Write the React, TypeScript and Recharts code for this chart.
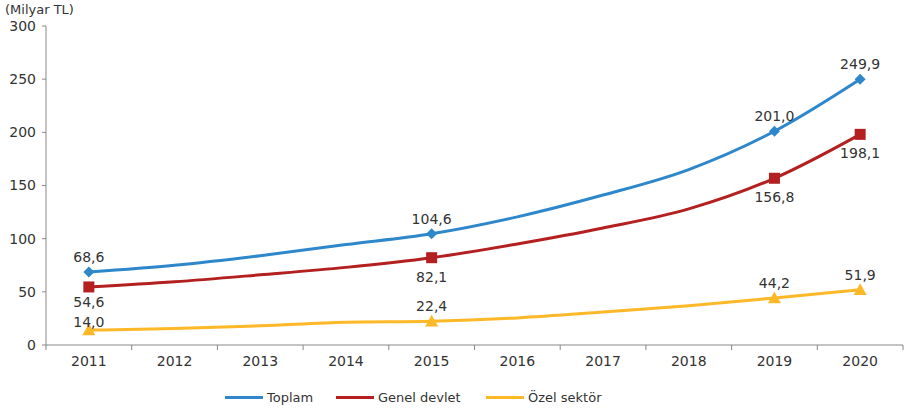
import React from 'react';
import { LineChart, Line, XAxis, YAxis, LabelList } from 'recharts';

const years = ['2011', '2012', '2013', '2014', '2015', '2016', '2017', '2018', '2019', '2020'];
const toplam = [68.6, 75.0, 84.0, 94.5, 104.6, 120.5, 141.0, 165.0, 201.0, 249.9];
const genel = [54.6, 59.5, 66.0, 73.0, 82.1, 95.0, 110.0, 128.0, 156.8, 198.1];
const ozel = [14.0, 15.5, 18.0, 21.5, 22.4, 25.5, 31.0, 37.0, 44.2, 51.9];
const markedIdx = [0, 4, 8, 9];
const yTicks = [0, 50, 100, 150, 200, 250, 300];

const data = years.map((y, i) => ({ year: y, toplam: toplam[i], genel: genel[i], ozel: ozel[i] }));

const BLUE = '#2f87cb';
const RED = '#b41f1f';
const YEL = '#fdb827';
const TXT = '#333333';
const FONT = '"DejaVu Sans", "Liberation Sans", Arial, sans-serif';

const W = 904;
const H = 412;
const PLOT_LEFT = 46;
const PLOT_RIGHT = 903;
const HALF = (PLOT_RIGHT - PLOT_LEFT) / years.length / 2;

const fmt = (v: number) => v.toFixed(1).replace('.', ',');

const DiamondDot = (p: any) => {
  if (!markedIdx.includes(p.index)) return <g key={p.index} />;
  const s = 5.5;
  return <path key={p.index} d={`M${p.cx},${p.cy - s}L${p.cx + s},${p.cy}L${p.cx},${p.cy + s}L${p.cx - s},${p.cy}Z`} fill={BLUE} />;
};
const SquareDot = (p: any) => {
  if (!markedIdx.includes(p.index)) return <g key={p.index} />;
  const s = 5.5;
  return <rect key={p.index} x={p.cx - s} y={p.cy - s} width={2 * s} height={2 * s} fill={RED} />;
};
const TriDot = (p: any) => {
  if (!markedIdx.includes(p.index)) return <g key={p.index} />;
  const s = 6.5;
  return <path key={p.index} d={`M${p.cx},${p.cy - s}L${p.cx + s},${p.cy + s * 0.8}L${p.cx - s},${p.cy + s * 0.8}Z`} fill={YEL} />;
};

const makeLabel = (dy: number, dyFirst?: number) => (p: any) => {
  if (!markedIdx.includes(p.index)) return null;
  const d = p.index === 0 && dyFirst !== undefined ? dyFirst : dy;
  return (
    <text x={p.x} y={p.y + d} textAnchor="middle" dominantBaseline="central" fill={TXT} fontSize={14} fontFamily={FONT}>
      {fmt(p.value)}
    </text>
  );
};

const XTick = (p: any) => {
  const { x, y, payload, index } = p;
  return (
    <g>
      <line x1={x + HALF} y1={y - 8} x2={x + HALF} y2={y - 3} stroke="#888" strokeWidth={1} />
      {index === 0 && <line x1={x - HALF} y1={y - 8} x2={x - HALF} y2={y - 3} stroke="#888" strokeWidth={1} />}
      <text x={x} y={y + 8} textAnchor="middle" dominantBaseline="central" fill={TXT} fontSize={14} fontFamily={FONT}>
        {payload.value}
      </text>
    </g>
  );
};

const legendItems = [
  { name: 'Toplam', color: BLUE, left: 225 },
  { name: 'Genel devlet', color: RED, left: 336 },
  { name: 'Özel sektör', color: YEL, left: 486 },
];

export default function App() {
  return (
    <div style={{ position: 'absolute', left: 0, top: 0, width: W, height: H, background: '#fff' }}>
      <div style={{ position: 'absolute', left: 5, top: 2, fontFamily: FONT, fontSize: 13, color: TXT }}>(Milyar TL)</div>
      <LineChart width={W} height={H} data={data} margin={{ top: 26, right: W - PLOT_RIGHT, bottom: 412 - 345 - 30, left: 0 }}>
        <XAxis
          dataKey="year"
          axisLine={{ stroke: '#888' }}
          tickLine={false}
          tick={<XTick />}
          height={30}
          interval={0}
          padding={{ left: HALF, right: HALF }}
        />
        <YAxis
          width={PLOT_LEFT}
          domain={[0, 300]}
          ticks={yTicks}
          axisLine={{ stroke: '#888' }}
          tickLine={{ stroke: '#888' }}
          tickSize={4}
          tickMargin={6}
          tick={{ fill: TXT, fontSize: 14, fontFamily: FONT }}
        />
        <Line type="monotone" dataKey="toplam" stroke={BLUE} strokeWidth={3} dot={DiamondDot} activeDot={false} isAnimationActive={false}>
          <LabelList dataKey="toplam" content={makeLabel(-15)} />
        </Line>
        <Line type="monotone" dataKey="genel" stroke={RED} strokeWidth={3} dot={SquareDot} activeDot={false} isAnimationActive={false}>
          <LabelList dataKey="genel" content={makeLabel(19, 15)} />
        </Line>
        <Line type="monotone" dataKey="ozel" stroke={YEL} strokeWidth={3} dot={TriDot} activeDot={false} isAnimationActive={false}>
          <LabelList dataKey="ozel" content={makeLabel(-15, -8)} />
        </Line>
      </LineChart>
      {legendItems.map((it) => (
        <div key={it.name} style={{ position: 'absolute', left: it.left, top: 387, display: 'flex', alignItems: 'center', height: 20 }}>
          <div style={{ width: 38, height: 3, background: it.color, marginRight: 4 }} />
          <span style={{ fontFamily: FONT, fontSize: 13, color: TXT }}>{it.name}</span>
        </div>
      ))}
    </div>
  );
}
